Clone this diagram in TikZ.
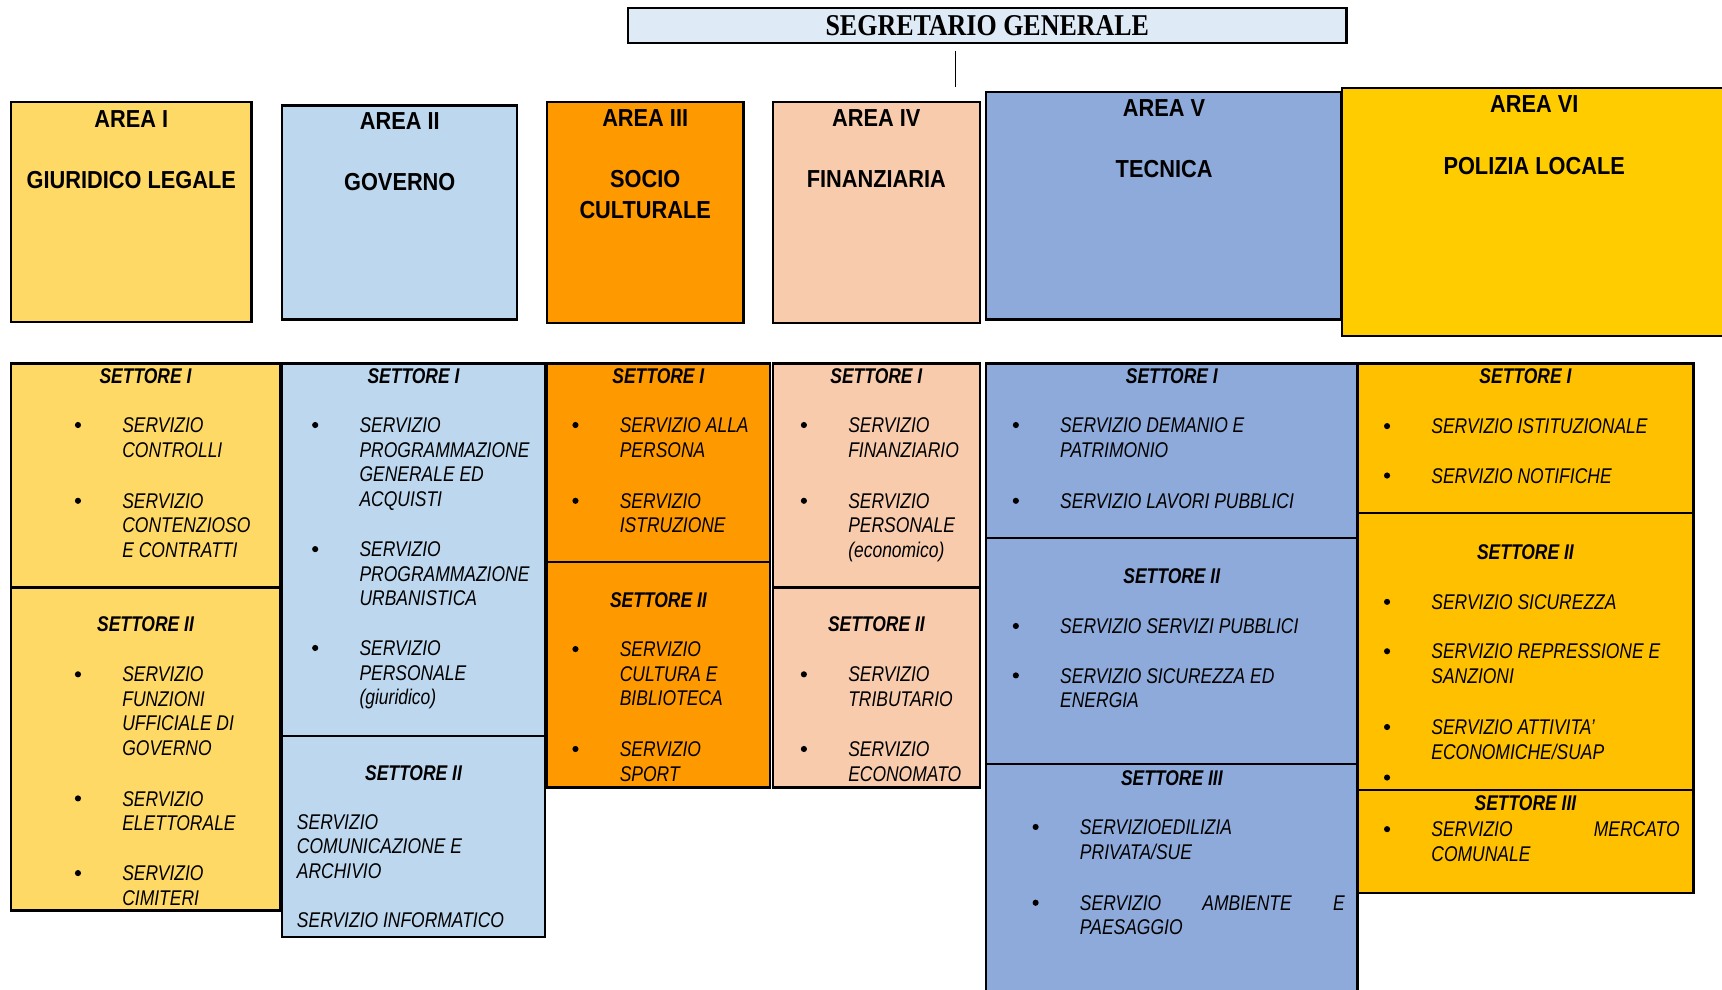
\documentclass[tikz,border=0pt]{standalone}
\usepackage{fontspec}
\newfontfamily\voci[FakeStretch=0.82]{Liberation Sans}
\newfontfamily\aree[FakeStretch=0.885]{Liberation Sans}
\newfontfamily\titolo[FakeStretch=0.86]{Liberation Serif}

\definecolor{sgblu}{HTML}{DEEAF6}
\definecolor{giallo}{HTML}{FFD966}
\definecolor{azzurro}{HTML}{BDD7EE}
\definecolor{arancio}{HTML}{FF9900}
\definecolor{pesca}{HTML}{F8CBAD}
\definecolor{blu}{HTML}{8EAADB}
\definecolor{oro}{HTML}{FFCC00}
\definecolor{ocra}{HTML}{FFC000}

\tikzset{
  riquadro/.style={draw=black, line width=1pt},
  areatxt/.style={anchor=north, align=center, inner sep=0pt,
    font=\aree\bfseries\fontsize{11.2}{14}\selectfont},
  settore/.style={anchor=base, inner sep=0pt,
    font=\voci\bfseries\itshape\fontsize{9.7}{11.15}\selectfont},
  voce/.style={anchor=north west, align=left, inner sep=0pt, yshift=3.5pt,
    font=\voci\itshape\fontsize{9.7}{11.15}\selectfont},
}
% bullet + text of one service: name, bullet x, y of first line, text
\newcommand{\servizio}[4]{%
  \fill (#2,#3) circle (1.4pt);
  \node[voce] (#1) at (#2+40,#3) {#4};}

\begin{document}
\begin{tikzpicture}[x=0.5pt, y=-0.5pt, line join=miter]
  \useasboundingbox (0,0) rectangle (1568,901);
  \clip (0,0) rectangle (1568,901);

  % segretario
  \node[riquadro, fill=sgblu, minimum width=327pt, minimum height=16pt, inner sep=0pt,
    font=\titolo\bfseries\fontsize{13.75}{16}\selectfont] (sg) at (899,23) {SEGRETARIO GENERALE};
  \coordinate (sgfine) at (870,79);
  \draw[line width=0.6pt, shorten <=3pt] (sg.south -| sgfine) -- (sgfine);

  % aree
  \filldraw[riquadro, fill=giallo] (10,93) rectangle (229,293);
  \node[areatxt] (area1) at (119.5,100) {AREA I\\[14pt]GIURIDICO LEGALE};
  \filldraw[riquadro, fill=azzurro] (257,96) rectangle (471,291);
  \node[areatxt] (area2) at (364,102) {AREA II\\[14pt]GOVERNO};
  \filldraw[riquadro, fill=arancio] (498,93) rectangle (677,294);
  \node[areatxt] (area3) at (587.5,99) {AREA III\\[14pt]SOCIO\\CULTURALE};
  \filldraw[riquadro, fill=pesca] (704,93) rectangle (892,294);
  \node[areatxt] (area4) at (798,99) {AREA IV\\[14pt]FINANZIARIA};
  \filldraw[riquadro, fill=blu] (898,84) rectangle (1221,291);
  \node[areatxt] (area5) at (1060,90) {AREA V\\[14pt]TECNICA};
  \filldraw[riquadro, fill=oro] (1222,80) rectangle (1573,306);
  \node[areatxt] (area6) at (1397,87) {AREA VI\\[14pt]POLIZIA LOCALE};

  % settori area I
  \filldraw[riquadro, fill=giallo] (10,331) rectangle (255,535);
  \filldraw[riquadro, fill=giallo] (10,535) rectangle (255,829);
  \node[settore] (s1a) at (132.5,349) {SETTORE I};
  \servizio{v1a}{71}{387}{SERVIZIO\\CONTROLLI}
  \servizio{v1b}{71}{456}{SERVIZIO\\CONTENZIOSO\\E CONTRATTI}
  \node[settore] (s1b) at (132.5,575) {SETTORE II};
  \servizio{v1c}{71}{614}{SERVIZIO\\FUNZIONI\\UFFICIALE DI\\GOVERNO}
  \servizio{v1d}{71}{727}{SERVIZIO\\ELETTORALE}
  \servizio{v1e}{71}{795}{SERVIZIO\\CIMITERI}

  % settori area II
  \filldraw[riquadro, fill=azzurro] (257,331) rectangle (496,670);
  \filldraw[riquadro, fill=azzurro] (257,670) rectangle (496,853);
  \node[settore] (s2a) at (376.5,349) {SETTORE I};
  \servizio{v2a}{287}{387}{SERVIZIO\\PROGRAMMAZIONE\\GENERALE ED\\ACQUISTI}
  \servizio{v2b}{287}{500}{SERVIZIO\\PROGRAMMAZIONE\\URBANISTICA}
  \servizio{v2c}{287}{590}{SERVIZIO\\PERSONALE\\(giuridico)}
  \node[settore] (s2b) at (376.5,711) {SETTORE II};
  \node[voce] (v2d) at (270,748) {SERVIZIO\\COMUNICAZIONE E\\ARCHIVIO};
  \node[voce] (v2e) at (270,838) {SERVIZIO INFORMATICO};

  % settori area III
  \filldraw[riquadro, fill=arancio] (498,331) rectangle (701,512);
  \filldraw[riquadro, fill=arancio] (498,512) rectangle (701,717);
  \node[settore] (s3a) at (599.5,349) {SETTORE I};
  \servizio{v3a}{524}{387}{SERVIZIO ALLA\\PERSONA}
  \servizio{v3b}{524}{456}{SERVIZIO\\ISTRUZIONE}
  \node[settore] (s3b) at (599.5,553) {SETTORE II};
  \servizio{v3c}{524}{591}{SERVIZIO\\CULTURA E\\BIBLIOTECA}
  \servizio{v3d}{524}{682}{SERVIZIO\\SPORT}

  % settori area IV
  \filldraw[riquadro, fill=pesca] (704,331) rectangle (892,535);
  \filldraw[riquadro, fill=pesca] (704,535) rectangle (892,717);
  \node[settore] (s4a) at (798,349) {SETTORE I};
  \servizio{v4a}{732}{387}{SERVIZIO\\FINANZIARIO}
  \servizio{v4b}{732}{456}{SERVIZIO\\PERSONALE\\(economico)}
  \node[settore] (s4b) at (798,575) {SETTORE II};
  \servizio{v4c}{732}{614}{SERVIZIO\\TRIBUTARIO}
  \servizio{v4d}{732}{682}{SERVIZIO\\ECONOMATO}

  % settori area V
  \filldraw[riquadro, fill=blu] (898,331) rectangle (1236,490);
  \filldraw[riquadro, fill=blu] (898,490) rectangle (1236,696);
  \filldraw[riquadro, fill=blu] (898,696) rectangle (1236,912);
  \node[settore] (s5a) at (1067,349) {SETTORE I};
  \servizio{v5a}{925}{387}{SERVIZIO DEMANIO E\\PATRIMONIO}
  \servizio{v5b}{925}{456}{SERVIZIO LAVORI PUBBLICI}
  \node[settore] (s5b) at (1067,531) {SETTORE II};
  \servizio{v5c}{925}{570}{SERVIZIO SERVIZI PUBBLICI}
  \servizio{v5d}{925}{615}{SERVIZIO SICUREZZA ED\\ENERGIA}
  \node[settore] (s5c) at (1067,715) {SETTORE III};
  \servizio{v5e}{943}{753}{SERVIZIOEDILIZIA\\PRIVATA/SUE}
  \servizio{v5f}{943}{822}{\makebox[120.5pt][s]{SERVIZIO AMBIENTE E}\\PAESAGGIO}

  % settori area VI
  \filldraw[riquadro, fill=ocra] (1236,331) rectangle (1542,467);
  \filldraw[riquadro, fill=ocra] (1236,467) rectangle (1542,719);
  \filldraw[riquadro, fill=ocra] (1236,719) rectangle (1542,813);
  \node[settore] (s6a) at (1389,349) {SETTORE I};
  \servizio{v6a}{1263}{388}{SERVIZIO ISTITUZIONALE}
  \servizio{v6b}{1263}{433}{SERVIZIO NOTIFICHE}
  \node[settore] (s6b) at (1389,509) {SETTORE II};
  \servizio{v6c}{1263}{548}{SERVIZIO SICUREZZA}
  \servizio{v6d}{1263}{593}{SERVIZIO REPRESSIONE E\\SANZIONI}
  \servizio{v6e}{1263}{662}{SERVIZIO ATTIVITA’\\ECONOMICHE/SUAP}
  \fill (1263,708) circle (1.4pt);
  \node[settore] (s6c) at (1389,738) {SETTORE III};
  \servizio{v6f}{1263}{755}{\makebox[113pt][s]{SERVIZIO MERCATO}\\COMUNALE}
\end{tikzpicture}
\end{document}
